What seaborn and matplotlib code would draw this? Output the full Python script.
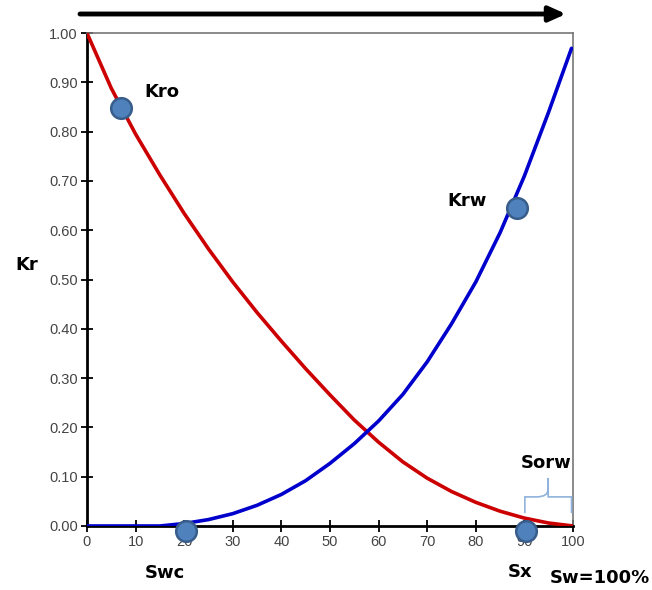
import numpy as np
import pandas as pd
import seaborn as sns
import matplotlib.pyplot as plt
from matplotlib.path import Path
from matplotlib.patches import PathPatch

# saturation (%) and relative permeability curves
sw_oil = [0, 5, 10, 15, 20, 25, 30, 35, 40, 45, 50, 55, 60, 65, 70, 75, 80, 85, 90, 95, 100]
kro = [1.00, 0.888, 0.795, 0.712, 0.634, 0.562, 0.495, 0.433, 0.375, 0.319, 0.266, 0.215,
       0.170, 0.130, 0.097, 0.070, 0.048, 0.030, 0.016, 0.006, 0.0]
sw_water = [0, 10, 15, 20, 25, 30, 35, 40, 45, 50, 55, 60, 65, 70, 75, 80, 85, 90, 95, 99.7]
krw = [0.0, 0.0, 0.0, 0.005, 0.013, 0.025, 0.042, 0.064, 0.092, 0.127, 0.167, 0.213,
       0.267, 0.333, 0.41, 0.495, 0.595, 0.71, 0.84, 0.969]

# marked points
pt_x = [6.9, 20.3, 90.3, 88.4]
pt_y = [0.847, -0.01, -0.01, 0.646]

df_o = pd.DataFrame({'Sw': sw_oil, 'Kr': kro})
df_w = pd.DataFrame({'Sw': sw_water, 'Kr': krw})
df_p = pd.DataFrame({'Sw': pt_x, 'Kr': pt_y})

sns.set_style('white')
plt.rcParams['font.family'] = ['Liberation Sans', 'DejaVu Sans']

fig = plt.figure(figsize=(6.52, 5.90), dpi=100)
ax = fig.add_axes([0.1334, 0.1085, 0.7454, 0.8355])

sns.lineplot(data=df_o, x='Sw', y='Kr', color='#cc0000', linewidth=2.6, ax=ax, zorder=3)
sns.lineplot(data=df_w, x='Sw', y='Kr', color='#0000cc', linewidth=2.6, ax=ax, zorder=3)
sns.scatterplot(data=df_p, x='Sw', y='Kr', s=220, color='#4f81bd', edgecolor='#385d8a',
                linewidth=1.8, ax=ax, zorder=5, clip_on=False)

ax.set_xlim(0, 100)
ax.set_ylim(0, 1)
ax.set_xticks(range(0, 101, 10))
ax.set_yticks(np.arange(0, 1.01, 0.1))
ax.set_yticklabels([f'{v:.2f}' for v in np.arange(0, 1.01, 0.1)])
ax.set_xlabel('')
ax.set_ylabel('')
ax.tick_params(bottom=True, left=True, direction='inout', length=9, width=1.3,
               color='black', labelsize=10.5, labelcolor='#444444', pad=2)

for s in ['left', 'bottom']:
    ax.spines[s].set_color('black')
    ax.spines[s].set_linewidth(2)
for s in ['top', 'right']:
    ax.spines[s].set_color('#777777')
    ax.spines[s].set_linewidth(1.2)

bold = dict(fontsize=13, fontweight='bold', color='black', family='DejaVu Sans')
ax.text(15.5, 0.88, 'Kro', ha='center', va='center', **bold)
ax.text(78.3, 0.66, 'Krw', ha='center', va='center', **bold)
ax.text(94.5, 0.128, 'Sorw', ha='center', va='center', **bold)
fig.text(27 / 652, 1 - 265 / 590, 'Kr', ha='center', va='center', **bold)
fig.text(165 / 652, 1 - 573 / 590, 'Swc', ha='center', va='center', **bold)
fig.text(520 / 652, 1 - 572 / 590, 'Sx', ha='center', va='center', **bold)
fig.text(600 / 652, 1 - 578 / 590, 'Sw=100%', ha='center', va='center', **bold)

# brace over the residual oil range
verts = [(90.1, 0.026), (90.1, 0.059), (90.1, 0.059), (92.5, 0.059),
         (94.9, 0.059), (94.9, 0.075), (94.9, 0.097),
         (94.9, 0.075), (94.9, 0.059), (97.3, 0.059),
         (99.7, 0.059), (99.7, 0.059), (99.7, 0.026)]
codes = [Path.MOVETO, Path.LINETO, Path.CURVE3, Path.CURVE3,
         Path.CURVE3, Path.CURVE3, Path.LINETO,
         Path.CURVE3, Path.CURVE3, Path.CURVE3,
         Path.CURVE3, Path.LINETO, Path.LINETO]
ax.add_patch(PathPatch(Path(verts, codes), fill=False, edgecolor='#8fb3dc',
                       linewidth=1.2, clip_on=False, zorder=4))

# direction arrow above the chart
fig.add_artist(plt.Annotation('', xy=(566 / 652, 1 - 14 / 590), xytext=(80 / 652, 1 - 14 / 590),
                              xycoords='figure fraction', textcoords='figure fraction',
                              arrowprops=dict(arrowstyle='-|>,head_length=1.0,head_width=0.45',
                                              color='black', linewidth=3.5, shrinkA=0, shrinkB=0)))

fig.savefig('out.png', dpi=100)
